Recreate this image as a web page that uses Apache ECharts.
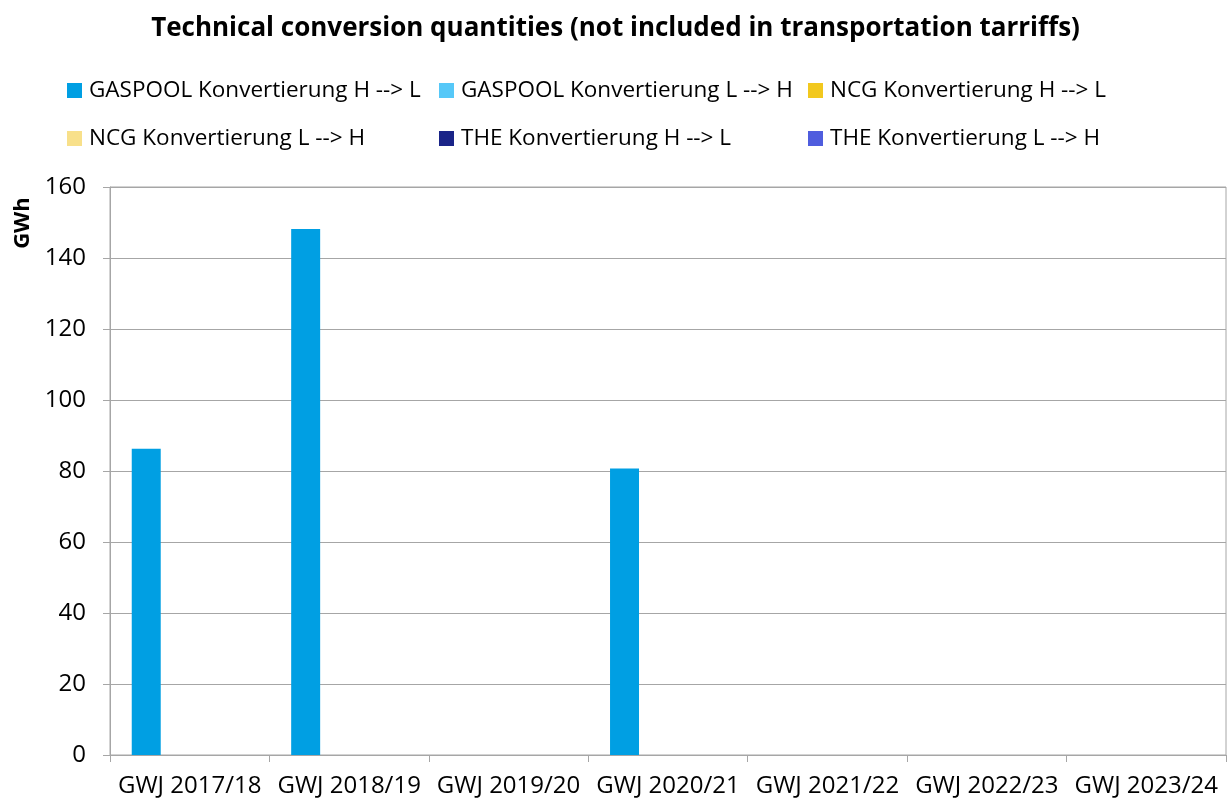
<!DOCTYPE html>
<html>
<head>
<meta charset="utf-8">
<script src="https://cdn.jsdelivr.net/npm/echarts@6/dist/echarts.min.js"></script>
<style>
html,body{margin:0;padding:0;background:#fff;}
#chart{width:1231px;height:800px;}
</style>
</head>
<body>
<div id="chart"></div>
<script>
var categories = ['GWJ 2017/18','GWJ 2018/19','GWJ 2019/20','GWJ 2020/21','GWJ 2021/22','GWJ 2022/23','GWJ 2023/24'];
var seriesNames = ['GASPOOL Konvertierung H --> L','GASPOOL Konvertierung L --> H','NCG Konvertierung H --> L','NCG Konvertierung L --> H','THE Konvertierung H --> L','THE Konvertierung L --> H'];
var gaspoolHL = [86.3, 148.2, 0, 80.7, 0, 0, 0];
var gaspoolLH = [0, 0, 0, 0, 0, 0, 0];
var ncgHL = [0, 0, 0, 0, 0, 0, 0];
var ncgLH = [0, 0, 0, 0, 0, 0, 0];
var theHL = [0, 0, 0, 0, 0, 0, 0];
var theLH = [0, 0, 0, 0, 0, 0, 0];
var seriesColors = ['#009FE3','#56C8F8','#F2C81E','#F8E08A','#1A2488','#4F5DDE'];
var yTicks = {min: 0, max: 160, interval: 20};

var FONT = 'Open Sans';
var allData = [gaspoolHL, gaspoolLH, ncgHL, ncgLH, theHL, theLH];

var chart = echarts.init(document.getElementById('chart'), null, {renderer: 'canvas'});

var series = seriesNames.map(function(n, i){
  return {
    name: n,
    type: 'bar',
    data: allData[i],
    barWidth: '18.18%',
    barGap: '-40%',
    itemStyle: {color: seriesColors[i]},
    emphasis: {disabled: true}
  };
});

var legendCols = [67, 439, 808];
var legendRows = [79, 127];
var legends = seriesNames.map(function(n, i){
  return {
    data: [n],
    left: legendCols[i % 3],
    top: legendRows[Math.floor(i / 3)],
    orient: 'horizontal',
    itemWidth: 15,
    itemHeight: 15,
    icon: 'rect',
    padding: 0,
    textStyle: {fontFamily: FONT, fontSize: 22.5, color: '#000', padding: [0,0,0,2]},
    selectedMode: false
  };
});

chart.setOption({
  animation: false,
  backgroundColor: '#fff',
  textStyle: {fontFamily: FONT},
  title: {
    text: 'Technical conversion quantities (not included in transportation tarriffs)',
    left: 'center',
    top: 16,
    padding: 0,
    textStyle: {fontFamily: FONT, fontSize: 26, fontWeight: 'bold', color: '#000'}
  },
  legend: legends,
  graphic: [{
    type: 'text',
    x: 23, y: 223,
    rotation: Math.PI/2,
    style: {text: 'GWh', fontFamily: FONT, fontSize: 22, fontWeight: 'bold', fill: '#000', align: 'center', verticalAlign: 'middle'}
  }],
  grid: {
    left: 110, right: 5, top: 187, bottom: 45,
    show: true, borderColor: '#a6a6a6', borderWidth: 1,
    containLabel: false
  },
  xAxis: {
    type: 'category',
    data: categories,
    boundaryGap: true,
    axisLine: {lineStyle: {color: '#a6a6a6', width: 1}},
    axisTick: {show: true, alignWithLabel: false, length: 7, lineStyle: {color: '#a6a6a6'}},
    axisLabel: {fontFamily: FONT, fontSize: 24, color: '#000', margin: 19, interval: 0}
  },
  yAxis: {
    type: 'value',
    min: yTicks.min, max: yTicks.max, interval: yTicks.interval,
    axisLine: {show: true, lineStyle: {color: '#a6a6a6', width: 1}},
    axisTick: {show: true, length: 7, lineStyle: {color: '#a6a6a6'}},
    axisLabel: {fontFamily: FONT, fontSize: 24, color: '#000', margin: 24},
    splitLine: {show: true, lineStyle: {color: '#a6a6a6', width: 1}}
  },
  series: series
});
</script>
</body>
</html>
